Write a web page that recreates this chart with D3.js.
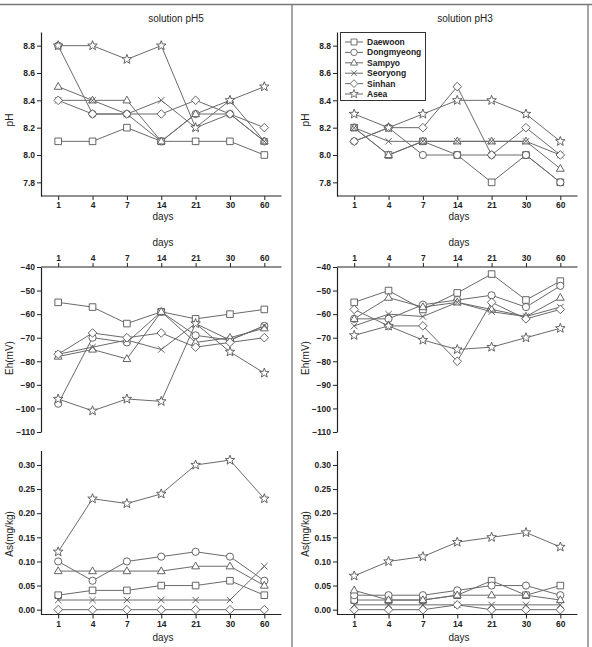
<!DOCTYPE html>
<html>
<head>
<meta charset="utf-8">
<script src="https://cdn.jsdelivr.net/npm/d3@7"></script>
<style>
body { margin: 0; background: #fff; }
text { font-family: "Liberation Sans", Arial, sans-serif; fill: #222; }
</style>
</head>
<body>
<svg id="chart" width="592" height="647"></svg>
<script>
// ---- data ----
const days = ["1", "4", "7", "14", "21", "30", "60"];
const sites = ["Daewoon", "Dongmyeong", "Sampyo", "Seoryong", "Sinhan", "Asea"];
const shapes = ["square", "circle", "triangle", "x", "diamond", "star"];

const phTicks = [7.8, 8.0, 8.2, 8.4, 8.6, 8.8];
const ehTicks = [-110, -100, -90, -80, -70, -60, -50, -40];
const asTicks = [0, 0.05, 0.10, 0.15, 0.20, 0.25, 0.30];

const ph5 = [
    [8.1, 8.1, 8.2, 8.1, 8.1, 8.1, 8.0],
    [8.8, 8.3, 8.3, 8.1, 8.3, 8.3, 8.1],
    [8.5, 8.4, 8.4, 8.1, 8.3, 8.4, 8.1],
    [8.4, 8.4, 8.3, 8.4, 8.2, 8.3, 8.1],
    [8.4, 8.3, 8.3, 8.3, 8.4, 8.3, 8.2],
    [8.8, 8.8, 8.7, 8.8, 8.2, 8.4, 8.5]
];
const ph3 = [
    [8.2, 8.0, 8.1, 8.0, 7.8, 8.0, 7.8],
    [8.1, 8.2, 8.0, 8.0, 8.0, 8.0, 7.8],
    [8.2, 8.0, 8.1, 8.1, 8.1, 8.1, 7.9],
    [8.2, 8.1, 8.1, 8.1, 8.1, 8.1, 8.0],
    [8.1, 8.2, 8.2, 8.5, 8.0, 8.2, 8.0],
    [8.3, 8.2, 8.3, 8.4, 8.4, 8.3, 8.1]
];
const eh5 = [
    [-55, -57, -64, -59, -62, -60, -58],
    [-98, -70, -72, -59, -69, -71, -65],
    [-78, -75, -79, -59, -72, -70, -66],
    [-77, -74, -71, -75, -64, -71, -65],
    [-77, -68, -70, -68, -74, -72, -70],
    [-96, -101, -96, -97, -64, -76, -85]
];
const eh3 = [
    [-55, -50, -58, -51, -43, -54, -46],
    [-62, -62, -56, -54, -52, -57, -48],
    [-62, -53, -57, -55, -58, -61, -53],
    [-65, -60, -61, -55, -59, -61, -57],
    [-58, -65, -65, -80, -55, -62, -58],
    [-69, -65, -71, -75, -74, -70, -66]
];
const as5 = [
    [0.03, 0.04, 0.04, 0.05, 0.05, 0.06, 0.03],
    [0.10, 0.06, 0.10, 0.11, 0.12, 0.11, 0.06],
    [0.08, 0.08, 0.08, 0.08, 0.09, 0.09, 0.05],
    [0.02, 0.02, 0.02, 0.02, 0.02, 0.02, 0.09],
    [0.00, 0.00, 0.00, 0.00, 0.00, 0.00, 0.00],
    [0.12, 0.23, 0.22, 0.24, 0.30, 0.31, 0.23]
];
const as3 = [
    [0.02, 0.02, 0.02, 0.03, 0.06, 0.03, 0.05],
    [0.03, 0.03, 0.03, 0.04, 0.05, 0.05, 0.03],
    [0.04, 0.02, 0.02, 0.03, 0.03, 0.03, 0.02],
    [0.01, 0.01, 0.01, 0.01, 0.01, 0.01, 0.01],
    [0.00, 0.00, 0.00, 0.01, 0.00, 0.00, 0.00],
    [0.07, 0.10, 0.11, 0.14, 0.15, 0.16, 0.13]
];

// ---- layout ----
let svg = d3.select("#chart");

let cols = [
    {x0: 41, x1: 281.5, title: "solution pH5", titleX: 176, daysX: 163},
    {x0: 337, x1: 577.5, title: "solution pH3", titleX: 465, daysX: 459}
];

let rows = [
    {key: "ph", top: 32, bottom: 196, domain: [7.7, 8.9], ticks: phTicks, fmt: d3.format(".1f"),
     label: "pH", labelY: 120, axis: "bottom", daysY: 220, sets: [ph5, ph3]},
    {key: "eh", top: 267, bottom: 432, domain: [-110, -40], ticks: ehTicks, fmt: d3.format("d"),
     label: "Eh(mV)", labelY: 358, axis: "top", daysY: 246, sets: [eh5, eh3]},
    {key: "as", top: 450.5, bottom: 614.5, domain: [-0.01, 0.33], ticks: asTicks, fmt: d3.format(".2f"),
     label: "As(mg/kg)", labelY: 534, axis: "bottom", daysY: 641, sets: [as5, as3]}
];

// marker shapes drawn as paths around 0,0
function shapePath(s) {
    switch (s) {
        case "square": return "M-3.3,-3.3H3.3V3.3H-3.3Z";
        case "circle": return "M3.6,0A3.6,3.6 0 1,1 -3.6,0A3.6,3.6 0 1,1 3.6,0Z";
        case "triangle": return "M0,-4.2L3.9,2.6H-3.9Z";
        case "x": return "M-3.2,-3.2L3.2,3.2M-3.2,3.2L3.2,-3.2";
        case "diamond": return "M0,-4.3L4.3,0L0,4.3L-4.3,0Z";
        case "star": {
            let pts = [];
            for (let i = 0; i < 10; i++) {
                let r = i % 2 === 0 ? 5 : 2.1;
                let a = -Math.PI / 2 + i * Math.PI / 5;
                pts.push((r * Math.cos(a)).toFixed(2) + "," + (r * Math.sin(a)).toFixed(2));
            }
            return "M" + pts.join("L") + "Z";
        }
    }
}

// frame
svg.append("line").attr("x1", 0).attr("x2", 592).attr("y1", 4.5).attr("y2", 4.5).attr("stroke", "#777").attr("stroke-width", 1.3);
svg.append("line").attr("x1", 292).attr("x2", 292).attr("y1", 4.5).attr("y2", 647).attr("stroke", "#777").attr("stroke-width", 1.3);
svg.append("line").attr("x1", 588).attr("x2", 588).attr("y1", 4.5).attr("y2", 647).attr("stroke", "#777").attr("stroke-width", 1.3);

cols.forEach((c, ci) => {
    svg.append("text")
        .attr("x", c.titleX).attr("y", 22)
        .attr("text-anchor", "middle").attr("font-size", 10)
        .text(c.title);

    let x = d3.scalePoint().domain(days).range([c.x0, c.x1]).padding(0.5);

    rows.forEach(r => {
        let y = d3.scaleLinear().domain(r.domain).range([r.bottom, r.top]);
        let g = svg.append("g");

        // y axis
        let ya = g.append("g")
            .attr("transform", "translate(" + c.x0 + ",0)")
            .call(d3.axisLeft(y).tickValues(r.ticks).tickFormat(r.fmt).tickSize(4).tickPadding(2).tickSizeOuter(0));

        // x axis
        let xaY = r.axis === "top" ? r.top : r.bottom;
        let xa = g.append("g")
            .attr("transform", "translate(0," + xaY + ")")
            .call((r.axis === "top" ? d3.axisTop(x) : d3.axisBottom(x)).tickSize(4).tickPadding(2).tickSizeOuter(0));

        [ya, xa].forEach(a => {
            a.select(".domain").attr("stroke", "#222").attr("stroke-width", 1.2);
            a.selectAll(".tick line").attr("stroke", "#222").attr("stroke-width", 1);
            a.selectAll(".tick text")
                .attr("font-family", "'Liberation Sans', Arial, sans-serif")
                .attr("font-weight", "bold").attr("font-size", 8.5).attr("fill", "#222");
        });
        // x axis line spans the whole plot width
        xa.select(".domain").attr("d", "M" + c.x0 + ",0H" + c.x1);

        // axis titles
        g.append("text")
            .attr("text-anchor", "middle").attr("font-size", 10)
            .attr("transform", "translate(" + (c.x0 - 28) + "," + r.labelY + ") rotate(-90)")
            .text(r.label);

        g.append("text")
            .attr("x", c.daysX)
            .attr("y", r.daysY)
            .attr("text-anchor", "middle").attr("font-size", 10)
            .text("days");

        // series
        let sets = r.sets[ci];
        let line = d3.line().x((v, i) => x(days[i])).y(v => y(v));

        g.append("g").selectAll("path")
            .data(sets)
            .enter().append("path")
            .attr("d", d => line(d))
            .attr("fill", "none")
            .attr("stroke", "#6a6a6a")
            .attr("stroke-width", 1);

        sets.forEach((vals, si) => {
            g.append("g").selectAll("path")
                .data(vals)
                .enter().append("path")
                .attr("transform", (v, i) => "translate(" + x(days[i]) + "," + y(v) + ")")
                .attr("d", shapePath(shapes[si]))
                .attr("fill", shapes[si] === "x" ? "none" : "#fff")
                .attr("stroke", "#555")
                .attr("stroke-width", 0.9);
        });
    });
});

// legend inside pH3 panel
let legend = svg.append("g");
legend.append("rect")
    .attr("x", 340.5).attr("y", 32.5).attr("width", 85).attr("height", 68)
    .attr("fill", "#fff").attr("stroke", "#333").attr("stroke-width", 1);

let items = legend.selectAll("g.item")
    .data(sites)
    .enter().append("g")
    .attr("class", "item")
    .attr("transform", (d, i) => "translate(0," + (42 + i * 10.4) + ")");

items.append("line")
    .attr("x1", 345).attr("x2", 363).attr("y1", 0).attr("y2", 0)
    .attr("stroke", "#6a6a6a").attr("stroke-width", 1);

items.append("path")
    .attr("transform", "translate(354,0) scale(0.9)")
    .attr("d", (d, i) => shapePath(shapes[i]))
    .attr("fill", (d, i) => shapes[i] === "x" ? "none" : "#fff")
    .attr("stroke", "#555").attr("stroke-width", 0.9);

items.append("text")
    .attr("x", 367).attr("y", 0).attr("dy", "0.35em")
    .attr("font-size", 8.5).attr("font-weight", "bold").attr("fill", "#333")
    .text(d => d);
</script>
</body>
</html>
